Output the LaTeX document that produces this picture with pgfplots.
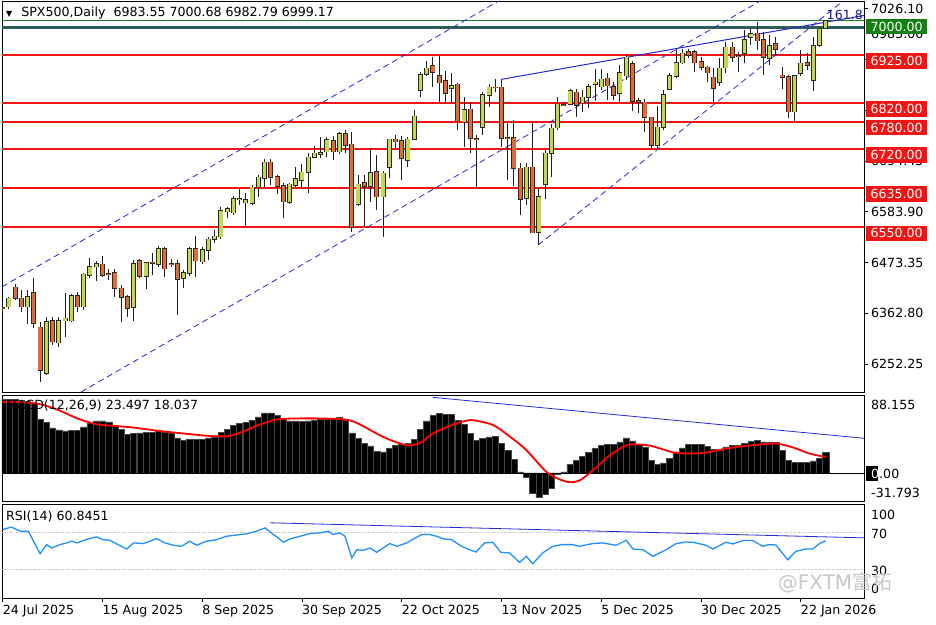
\documentclass[border=0pt]{standalone}
\usepackage{fontspec}
\setmainfont{DejaVu Sans}
\newfontfamily\cjk{Noto Sans CJK SC}
\usepackage{pgfplots}
\usepackage{pgfplotstable}
\pgfplotsset{compat=1.18}

\definecolor{bull}{RGB}{196,214,82}
\definecolor{bear}{RGB}{226,106,54}
\definecolor{outl}{RGB}{40,40,28}
\definecolor{wick}{RGB}{30,30,30}
\definecolor{trend}{RGB}{40,40,215}
\definecolor{lvl}{RGB}{240,20,20}
\definecolor{gline}{RGB}{30,125,50}
\definecolor{tline}{RGB}{45,95,88}
\definecolor{boxgreen}{RGB}{20,128,20}
\definecolor{rsiblue}{RGB}{30,144,255}
\definecolor{fibblue}{RGB}{25,25,150}
\definecolor{wm}{RGB}{200,200,200}

\newcommand\lab{\fontsize{12.6}{14}\selectfont}

% daily candles: index, open, high, low, close
\pgfplotstableread{
i o h l c
0 6374.5 6385.4 6363.6 6373.4
1 6377.3 6399.1 6371.7 6395.6
2 6419.5 6426.7 6391.9 6395.6
3 6395.6 6413.7 6366.4 6377.3
4 6377.3 6413.7 6339.7 6399.1
5 6407.8 6439.1 6330.3 6341.2
6 6332.5 6344.7 6214.1 6239.6
7 6232.4 6355.6 6228.7 6344.7
8 6346.9 6355.6 6294.0 6301.2
9 6299.0 6355.6 6290.3 6346.9
10 6346.9 6406.5 6312.0 6352.1
11 6346.9 6405.0 6344.7 6400.6
12 6400.6 6410.0 6366.4 6377.3
13 6377.3 6450.0 6370.1 6447.8
14 6446.3 6482.6 6439.1 6464.4
15 6464.4 6477.4 6433.2 6470.2
16 6469.6 6487.6 6441.3 6446.3
17 6448.5 6458.7 6435.4 6447.2
18 6451.3 6460.0 6399.1 6417.4
19 6417.4 6424.5 6344.7 6397.8
20 6399.1 6402.8 6354.3 6373.8
21 6376.0 6478.9 6346.9 6470.2
22 6477.4 6480.5 6439.1 6444.1
23 6444.1 6475.2 6415.2 6473.1
24 6473.5 6493.5 6446.3 6472.4
25 6470.2 6509.4 6464.4 6502.9
26 6502.9 6506.6 6442.6 6460.0
27 6470.2 6480.5 6464.4 6469.6
28 6470.2 6478.9 6359.3 6436.9
29 6439.1 6457.2 6417.4 6451.3
30 6450.0 6506.6 6444.1 6503.5
31 6502.9 6531.8 6441.3 6477.4
32 6475.2 6506.6 6470.2 6500.7
33 6500.7 6529.6 6478.9 6524.0
34 6524.0 6544.2 6515.9 6530.1
35 6529.6 6594.9 6524.0 6585.6
36 6584.0 6594.9 6569.7 6589.9
37 6581.9 6618.2 6576.9 6611.7
38 6611.0 6632.8 6598.6 6611.7
39 6603.6 6625.4 6551.4 6609.5
40 6602.3 6642.1 6598.6 6637.1
41 6638.4 6663.9 6616.7 6658.9
42 6656.7 6698.7 6637.1 6691.5
43 6691.5 6698.7 6642.1 6658.9
44 6660.2 6663.9 6622.6 6640.0
45 6640.0 6647.1 6569.7 6605.8
46 6604.5 6645.8 6600.8 6643.7
47 6642.1 6682.0 6638.4 6655.2
48 6653.0 6687.8 6638.4 6669.8
49 6669.8 6711.1 6624.1 6702.4
50 6702.4 6727.0 6700.2 6711.1
51 6709.6 6747.2 6700.2 6712.4
52 6714.6 6745.9 6703.7 6740.1
53 6738.5 6748.8 6696.5 6714.6
54 6714.6 6758.1 6709.6 6753.1
55 6753.1 6761.8 6711.1 6729.2
56 6730.7 6758.1 6540.5 6550.1
57 6600.8 6663.9 6596.4 6643.7
58 6646.5 6663.9 6551.4 6640.0
59 6640.0 6722.7 6605.1 6668.3
60 6671.1 6707.4 6587.7 6616.7
61 6616.7 6672.6 6529.0 6667.6
62 6680.7 6742.2 6657.4 6741.6
63 6741.6 6750.9 6722.0 6736.4
64 6738.5 6747.7 6653.0 6700.2
65 6696.5 6747.2 6682.0 6741.6
66 6741.6 6805.3 6740.1 6791.2
67 6848.9 6888.7 6833.0 6881.5
68 6883.0 6912.6 6879.3 6896.1
69 6901.1 6921.3 6856.0 6887.4
70 6879.3 6923.5 6823.4 6864.7
71 6869.1 6890.9 6818.4 6841.7
72 6852.6 6885.2 6823.4 6858.2
73 6861.3 6864.1 6761.8 6782.1
74 6779.9 6834.3 6725.5 6805.3
75 6806.9 6823.4 6711.1 6743.8
76 6742.2 6750.9 6635.0 6740.9
77 6767.7 6845.2 6750.9 6838.0
78 6838.0 6861.9 6812.5 6854.7
79 6854.7 6872.8 6844.5 6854.1
80 6854.7 6872.1 6725.5 6743.8
81 6745.1 6776.4 6653.0 6744.4
82 6745.1 6783.6 6640.0 6678.5
83 6678.5 6690.0 6576.9 6611.0
84 6613.2 6689.4 6598.6 6680.7
85 6680.7 6781.4 6537.0 6538.3
86 6539.2 6635.0 6511.6 6616.7
87 6643.7 6718.3 6611.0 6711.1
88 6711.1 6774.9 6660.2 6765.5
89 6766.8 6834.3 6761.8 6817.7
90 6816.2 6819.9 6814.0 6815.6
91 6818.4 6851.0 6816.2 6846.7
92 6843.9 6850.4 6790.8 6816.2
93 6821.2 6848.9 6801.6 6833.0
94 6833.0 6861.9 6809.0 6856.0
95 6861.9 6893.9 6824.9 6865.2
96 6856.0 6893.9 6848.9 6872.1
97 6874.3 6886.5 6827.1 6858.2
98 6856.0 6866.9 6827.1 6838.0
99 6841.7 6903.3 6823.4 6886.5
100 6880.0 6925.0 6870.6 6920.0
101 6905.4 6912.0 6803.2 6824.9
102 6825.6 6830.8 6799.5 6822.1
103 6822.1 6828.6 6758.1 6789.5
104 6789.5 6790.8 6722.0 6729.2
105 6729.2 6814.0 6722.7 6767.7
106 6767.7 6848.9 6761.8 6838.0
107 6851.0 6885.2 6848.9 6880.0
108 6878.7 6938.1 6875.0 6908.3
109 6908.3 6938.1 6905.4 6928.7
110 6931.5 6937.4 6918.5 6925.0
111 6932.2 6935.9 6887.4 6908.3
112 6909.8 6920.7 6892.4 6898.9
113 6898.3 6901.1 6866.9 6886.9
114 6876.5 6896.1 6819.9 6852.6
115 6866.3 6917.8 6857.6 6896.1
116 6897.4 6954.0 6885.2 6941.8
117 6941.8 6954.0 6910.4 6920.7
118 6922.8 6932.2 6888.7 6922.2
119 6928.7 6979.4 6907.6 6957.7
120 6964.2 6983.8 6946.8 6970.7
121 6972.2 6997.5 6935.9 6956.1
122 6957.7 6975.7 6881.5 6920.0
123 6917.8 6968.5 6903.3 6944.6
124 6949.0 6964.8 6925.0 6937.4
125 6880.8 6899.6 6850.4 6876.5
126 6877.8 6881.5 6787.3 6801.6
127 6801.6 6881.5 6779.9 6879.3
128 6885.2 6935.9 6879.3 6907.0
129 6908.3 6928.7 6892.4 6903.3
130 6870.6 6964.8 6847.3 6945.3
131 6946.8 6985.3 6941.8 6980.9
132 6983.55 7000.68 6982.79 6999.17
}\candles

% MACD main line (histogram)
\pgfplotstableread{
i m
0 83.4
1 83.4
2 83.0
3 82.3
4 81.1
5 79.3
6 60.4
7 57.4
8 51.0
9 48.7
10 47.6
11 47.9
12 47.9
13 52.1
14 55.9
15 58.9
16 58.9
17 57.8
18 54.0
19 49.1
20 43.8
21 44.6
22 45.3
23 45.7
24 46.1
25 47.6
26 46.4
27 44.6
28 39.6
29 37.0
30 38.5
31 37.8
32 38.1
33 39.6
34 40.8
35 45.7
36 49.1
37 54.0
38 55.9
39 57.0
40 59.6
41 63.4
42 67.9
43 67.9
44 65.3
45 60.4
46 58.9
47 58.9
48 58.1
49 58.9
50 60.0
51 60.8
52 60.8
53 60.4
54 62.7
55 59.6
56 45.3
57 38.9
58 33.2
59 30.6
60 24.6
61 23.8
62 27.6
63 31.3
64 32.1
65 33.2
66 37.8
67 49.1
68 58.9
69 65.3
70 67.2
71 66.4
72 66.4
73 59.6
74 54.7
75 44.6
76 37.0
77 38.9
78 40.8
79 41.5
80 33.2
81 25.7
82 15.1
83 1.2
84 -5.2
85 -22.6
86 -27.9
87 -24.1
88 -17.7
89 -1.5
90 1.2
91 9.8
92 14.4
93 18.9
94 23.0
95 27.6
96 31.0
97 32.5
98 32.5
99 35.1
100 39.6
101 36.3
102 32.5
103 29.5
104 14.4
105 9.8
106 11.3
107 16.3
108 23.8
109 28.3
110 32.5
111 32.5
112 32.5
113 30.2
114 26.4
115 25.7
116 29.5
117 31.3
118 31.3
119 33.2
120 35.9
121 37.0
122 35.1
123 34.4
124 34.4
125 25.7
126 14.4
127 11.7
128 11.7
129 11.7
130 13.6
131 16.3
132 23.497
}\macd

% MACD signal line
\pgfplotstableread{
i s
0 80.4
3 80.0
6 77.7
9 71.0
12 61.6
15 55.1
18 53.2
21 51.3
25 47.6
29 44.6
33 41.9
36 41.5
38 45.3
41 54.0
44 60.4
47 61.6
51 61.6
55 60.4
57 55.9
59 48.3
61 40.8
63 35.1
65 31.3
67 34.0
69 44.6
72 54.0
74 58.5
75.5 59.6
78.7 54.0
81.4 40.8
84 25.7
87.2 1.2
89.4 -7.5
91 -10.5
92.6 -8.3
94.7 3.1
97.4 20.0
100.1 31.3
102 32.1
104 30.6
106 26.4
108 22.7
111 21.9
113.4 23.8
116.1 27.6
118.8 30.2
121.4 32.1
124.1 33.2
126.8 28.7
129.4 21.9
132 18.037
}\signal

% RSI(14)
\pgfplotstableread{
i r
0.0 72.9
1.4 75.4
2.8 71.1
4.1 71.1
6.0 47.1
7.05 56.8
7.9 53.2
9.2 56.8
10.3 58.6
11.1 60.4
11.9 58.6
13.7 62.9
15.1 65.0
16.1 62.1
17.2 61.4
18.5 56.8
19.9 52.1
21.0 58.6
22.6 57.9
23.6 60.4
24.7 63.2
26.0 58.6
27.4 56.1
28.7 55.0
30.0 60.4
31.1 56.1
32.7 60.4
34.3 62.1
35.9 65.7
38.1 67.5
39.1 68.2
40.7 71.1
42.1 74.6
43.2 68.6
44.2 63.9
45.0 59.3
46.1 62.9
47.7 65.7
49.3 68.6
50.9 69.3
52.2 71.1
53.0 67.5
54.1 69.3
54.9 65.7
56.0 42.5
56.8 51.4
57.8 50.7
58.9 53.2
60.0 48.6
61.0 53.2
62.1 57.9
63.2 55.0
64.8 58.6
65.9 62.9
67.2 67.5
68.5 67.5
69.6 65.7
70.7 62.9
72.0 62.1
73.5 55.3
74.6 52.1
75.9 48.9
77.3 58.6
78.6 59.3
79.9 48.6
81.3 47.9
82.9 37.9
84.0 44.3
85.0 36.4
86.6 47.9
88.2 55.0
89.8 56.8
91.4 56.8
92.5 55.0
94.6 57.9
96.2 58.6
98.4 56.1
100.0 61.4
101.1 52.1
102.7 51.4
104.3 44.3
106.4 51.4
108.0 57.9
109.6 59.6
110.7 59.3
112.8 56.1
113.9 52.1
116.0 59.3
117.1 57.5
118.7 61.1
120.3 61.1
121.9 55.0
122.9 56.8
124.0 56.4
125.9 40.7
127.2 49.6
128.8 52.1
129.9 52.1
131.0 57.9
132.0 60.8451
}\rsi

\pgfplotsset{
  panel/.style={
    scale only axis, anchor=south west, width=862pt,
    xmin=-0.11, xmax=138.14,
    axis line style={black, line width=0.8pt},
    clip mode=individual,
    xtick=\empty, xticklabels={}, yticklabels={},
    xticklabel style={opacity=0}, yticklabel style={opacity=0},
    ytick pos=right, tick align=outside, major tick length=4pt,
    tick style={black, line width=0.6pt},
  },
  cbar/.style={draw=none, mark=none, forget plot,
    error bars/y dir=plus, error bars/y explicit,
    error bars/error mark=none,
    error bars/error bar style={#1}},
}
\tikzset{
  rlab/.style={anchor=west, inner sep=0pt, font=\lab, xshift=7pt},
  rbox/.style={anchor=north west, inner sep=0pt, font=\lab, text=white,
    minimum width=61pt, minimum height=15.5pt, xshift=2pt, yshift=2pt},
  dlab/.style={anchor=base west, inner sep=0pt, font=\lab, yshift=-16pt},
}

\begin{document}
\begin{tikzpicture}
\useasboundingbox (0,0) rectangle (936pt,624pt);
\fill[white] (0,0) rectangle (936pt,624pt);

% ---------------- price panel ----------------
\begin{axis}[panel, at={(2pt,232pt)}, height=391pt,
  ymin=6191.7, ymax=7042.5,
  ytick={6252.25,6362.80,6473.35,6583.90,6694.45,6805.00,6915.55,7026.10}]

\pgfplotsinvokeforeach{6925,6820,6780,6720,6635,6550}{
  \addplot[lvl, line width=1.8pt, forget plot] coordinates {(-0.11,#1) (138.14,#1)};
}
\addplot[gline, line width=1.6pt] coordinates {(-0.11,7000) (138.14,7000)};
\addplot[tline, line width=2.6pt] coordinates {(-0.11,6985) (138.14,6985)};

\addplot[trend, line width=0.8pt, dash pattern=on 6pt off 4pt] coordinates {(-0.11,6420.6) (79.55,7042.5)};
\addplot[trend, line width=0.8pt, dash pattern=on 6pt off 4pt] coordinates {(12.56,6191.7) (121.5,7042.5)};
\addplot[trend, line width=0.8pt, dash pattern=on 6pt off 4pt] coordinates {(85.9,6511.6) (134.8,7042.5)};
\addplot[trend, line width=1pt] coordinates {(80.03,6872.1) (138.14,7011.0)};

% candles
\addplot[cbar={line width=1pt, draw=wick, solid}]
  table[x=i, y=l, y error expr=\thisrow{h}-\thisrow{l}] {\candles};
\addplot[cbar={line width=5pt, draw=outl, solid}]
  table[x=i, y expr={min(\thisrow{o},\thisrow{c})-1.5},
        y error expr={abs(\thisrow{c}-\thisrow{o})+3}] {\candles};
\addplot[restrict expr to domain={\thisrow{c}-\thisrow{o}}{0:5000},
  cbar={line width=3.2pt, draw=bull, solid}]
  table[x=i, y=o, y error expr=\thisrow{c}-\thisrow{o}] {\candles};
\addplot[restrict expr to domain={\thisrow{o}-\thisrow{c}}{0.001:5000},
  cbar={line width=3.2pt, draw=bear, solid}]
  table[x=i, y=c, y error expr=\thisrow{o}-\thisrow{c}] {\candles};

\node[anchor=east, inner sep=0pt, font=\lab, text=fibblue] at (axis cs:138.14,7012) [xshift=-1pt] {161.8};

\node[anchor=west, inner sep=0pt, font=\lab] at (rel axis cs:0,1) [xshift=4pt, yshift=-12pt]
  {{\fontsize{8}{8}\selectfont ▼}\hspace{9pt}SPX500,Daily\hspace{8pt}6983.55 7000.68 6982.79 6999.17};

% right scale
\node[rlab] at (axis cs:138.14,7026.10) {7026.10};
\node[rlab] at (axis cs:138.14,6971.8) {6985.00};
\node[rlab] at (axis cs:138.14,6694.45) {6694.45};
\node[rlab] at (axis cs:138.14,6583.90) {6583.90};
\node[rlab] at (axis cs:138.14,6473.35) {6473.35};
\node[rlab] at (axis cs:138.14,6362.80) {6362.80};
\node[rlab] at (axis cs:138.14,6252.25) {6252.25};
\node[rbox, fill=boxgreen] at (axis cs:138.14,7000) {7000.00};
\node[rbox, fill=lvl] at (axis cs:138.14,6925) {6925.00};
\node[rbox, fill=lvl] at (axis cs:138.14,6820) {6820.00};
\node[rbox, fill=lvl] at (axis cs:138.14,6780) {6780.00};
\node[rbox, fill=lvl] at (axis cs:138.14,6720) {6720.00};
\node[rbox, fill=lvl] at (axis cs:138.14,6635) {6635.00};
\node[rbox, fill=lvl] at (axis cs:138.14,6550) {6550.00};
\end{axis}

% ---------------- MACD panel ----------------
\begin{axis}[panel, at={(2pt,123pt)}, height=106pt,
  ymin=-31.793, ymax=88.155, ytick=\empty]
\addplot[ybar, bar width=6.2pt, fill=black, draw=gray!55!black, line width=0.5pt]
  table[x=i, y=m] {\macd};
\draw[black, line width=0.8pt] (axis cs:-0.11,0) -- (axis cs:138.14,0);
\addplot[red, line width=1.8pt, smooth] table[x=i, y=s] {\signal};
\addplot[trend, line width=0.8pt] coordinates {(69,85.5) (138.14,39.2)};
\node[anchor=west, inner sep=0pt, font=\lab] at (axis cs:-0.11,75.7) [xshift=4pt] {MACD(12,26,9) 23.497 18.037};
\node[rlab] at (axis cs:138.14,76.8) {88.155};
\node[anchor=west, inner sep=0pt, fill=black, minimum width=12pt, minimum height=15pt]
  at (axis cs:138.14,-1.2) [xshift=2pt] {};
\node[rlab] at (axis cs:138.14,-1.2) {\textcolor{white}{0}.00};
\node[rlab] at (axis cs:138.14,-22.7) {-31.793};
\end{axis}

% ---------------- RSI panel ----------------
\begin{axis}[panel, at={(2pt,26pt)}, height=94pt,
  ymin=0, ymax=100, ytick=\empty,
  xtick={0,16,...,128}, xtick pos=bottom]
\addplot[gray!45, densely dotted, line width=0.7pt] coordinates {(-0.11,70) (138.14,70)};
\addplot[gray!45, densely dotted, line width=0.7pt] coordinates {(-0.11,30) (138.14,30)};
\addplot[trend, line width=0.8pt] coordinates {(42.9,80.0) (138.14,64.0)};
\addplot[rsiblue, line width=1.3pt] table[x=i, y=r] {\rsi};
\node[anchor=west, inner sep=0pt, font=\lab] at (axis cs:-0.11,86.2) [xshift=4pt] {RSI(14) 60.8451};
\node[rlab] at (axis cs:138.14,88.3) {100};
\node[rlab] at (axis cs:138.14,68.1) {70};
\node[rlab] at (axis cs:138.14,29.0) {30};
\node[rlab] at (axis cs:138.14,9.6) {0};
\node[anchor=west, inner sep=0pt, text=wm] at (axis cs:124.3,16)
  {\fontsize{20}{20}\selectfont @FXTM{\cjk 富拓}};
\node[dlab] at (axis cs:0,0) {24 Jul 2025};
\node[dlab] at (axis cs:16,0) {15 Aug 2025};
\node[dlab] at (axis cs:32,0) {8 Sep 2025};
\node[dlab] at (axis cs:48,0) {30 Sep 2025};
\node[dlab] at (axis cs:64,0) {22 Oct 2025};
\node[dlab] at (axis cs:80,0) {13 Nov 2025};
\node[dlab] at (axis cs:96,0) {5 Dec 2025};
\node[dlab] at (axis cs:112,0) {30 Dec 2025};
\node[dlab] at (axis cs:128,0) {22 Jan 2026};
\end{axis}
\end{tikzpicture}
\end{document}
